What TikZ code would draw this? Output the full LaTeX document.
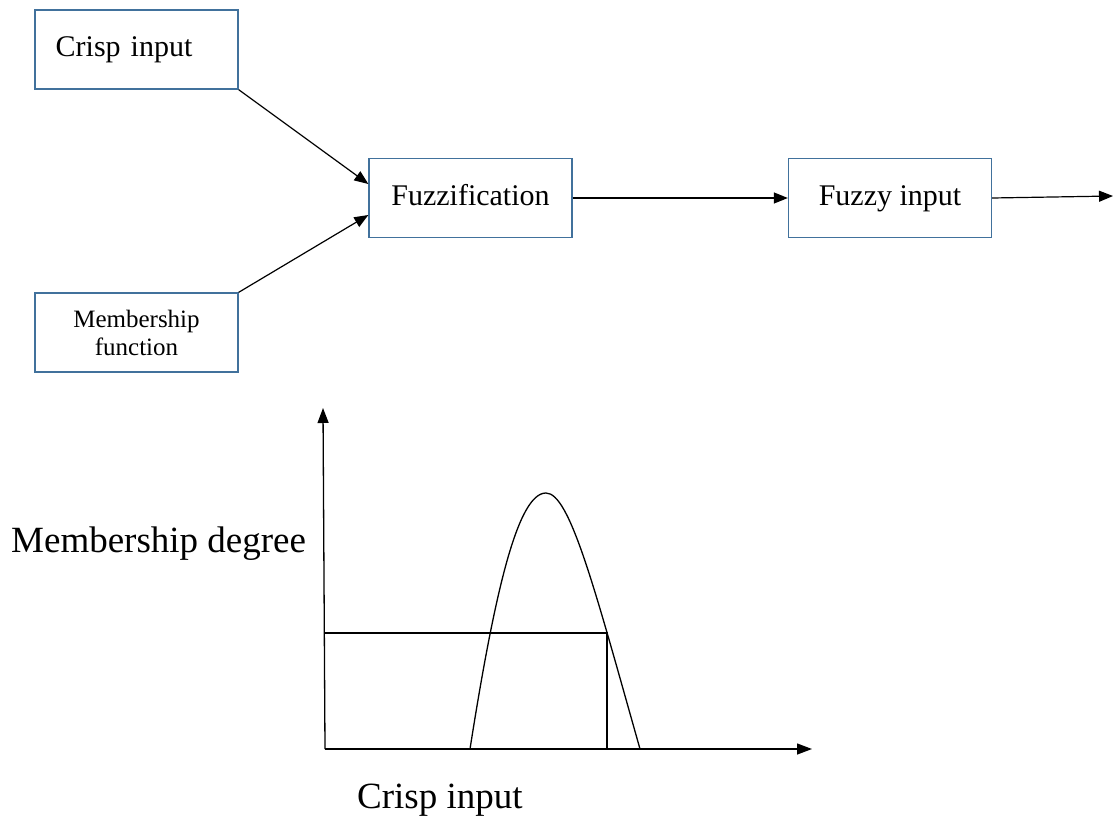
\documentclass[tikz,border=0pt]{standalone}
\usepackage{fontspec}
\setmainfont{Liberation Serif}
\usetikzlibrary{arrows.meta}
\definecolor{boxblue}{RGB}{65,113,156}
\begin{document}
\begin{tikzpicture}[x=1pt,y=-1pt,
  box/.style={draw=boxblue, line width=1.3pt, minimum width=203pt, minimum height=79pt, inner sep=0pt, font=\fontsize{30}{36}\selectfont},
  oneline/.style={text height=21pt, text depth=7pt},
  conn/.style={line width=1.2pt, -{Triangle[length=14pt,width=11pt]}},
  axis/.style={line width=1.3pt, -{Triangle[length=15pt,width=11pt]}},
  plain/.style={line width=1.3pt},
  biglabel/.style={inner sep=0pt, anchor=base west, font=\fontsize{37}{44}\selectfont}]
\useasboundingbox (0,0) rectangle (1114,816);
% top block diagram
\node[box, oneline, align=left, text width=161.6pt, inner xsep=20.7pt] (crisp) at (136.5,49.5) {Crisp input};
\node[box, align=center, font=\fontsize{25}{28}\selectfont] (mem) at (136.5,332.5) {Membership\\function};
\node[box, oneline] (fuzz) at (470.5,198) {Fuzzification};
\node[box, oneline] (fin) at (890,198) {Fuzzy input};
\coordinate (out) at (1113,196);
\draw[conn] (crisp.south east) -- ([yshift=14pt]fuzz.west);
\draw[conn] (mem.north east) -- ([yshift=-17pt]fuzz.west);
\draw[conn] (fuzz.east) -- (fin.west);
\draw[conn] (fin.east) -- (out);
% membership graph
\coordinate (O) at (325,749);
\coordinate (ytop) at (323,408);
\coordinate (xend) at (812,749);
\coordinate (cut) at (607,633);
\coordinate (cutaxis) at (325,633);
\coordinate (cutbase) at (607,749);
\coordinate (c0) at (470,749);
\coordinate (peak) at (546,493);
\coordinate (c1) at (640,749);
\draw[axis] (O) -- (ytop);
\draw[axis] (O) -- (xend);
\draw[plain] (cutaxis) -- (cut) -- (cutbase);
\draw[plain] (c0) .. controls (495,590) and (518,493) .. (peak)
                  .. controls (570,493) and (595,590) .. (c1);
\node[biglabel] (ylab) at (11,552) {Membership degree};
\node[biglabel] (xlab) at (357,808) {Crisp input};
\end{tikzpicture}
\end{document}
